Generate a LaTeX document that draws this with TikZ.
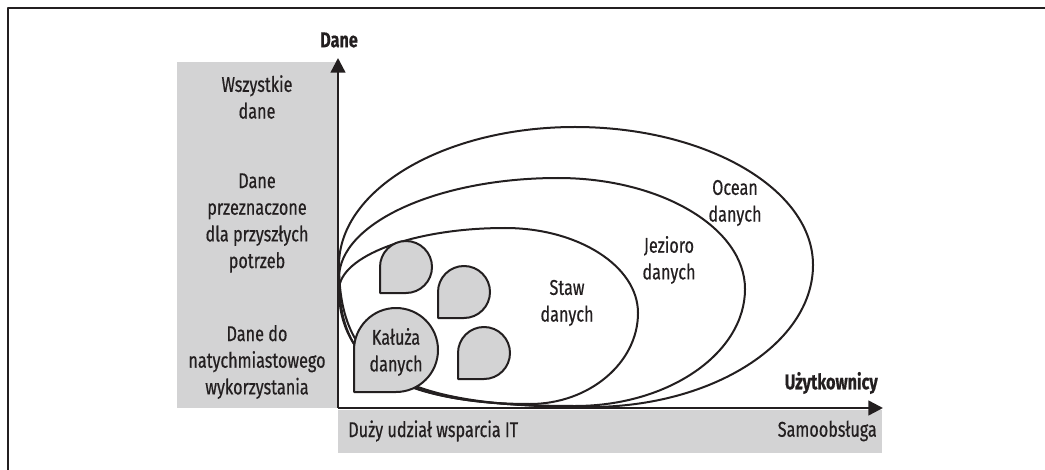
\documentclass[tikz,border=0pt]{standalone}
\usepackage{fontspec}
\setmainfont{Fira Sans}[FakeStretch=0.76,FakeBold=0.5]
\usetikzlibrary{arrows.meta}
\definecolor{ink}{HTML}{231F20}
\definecolor{panel}{HTML}{D3D3D4}
\newcommand{\mydrop}[3]{%
  \draw[drop] (#1-#3,#2+#3) -- (#1-#3,#2)
    .. controls (#1-#3,#2-0.5523*#3) and (#1-0.5523*#3,#2-#3) .. (#1,#2-#3)
    .. controls (#1+0.5523*#3,#2-#3) and (#1+#3,#2-0.5523*#3) .. (#1+#3,#2)
    .. controls (#1+#3,#2+0.5523*#3) and (#1+0.5523*#3,#2+#3) .. (#1,#2+#3)
    -- cycle;}
\begin{document}
\begin{tikzpicture}[x=0.75pt,y=-0.75pt,line join=round,
  txt/.style={font=\fontsize{16}{20}\selectfont,text=ink,align=center,inner sep=0pt},
  boldtxt/.style={font=\fontsize{16}{20}\selectfont\bfseries,text=ink,inner sep=0pt},
  curve/.style={draw=ink,line width=1.5pt},
  drop/.style={draw=ink,line width=1.5pt,fill=panel},
  axis/.style={draw=ink,line width=1.8pt,-{Triangle[length=11pt,width=11pt]}},
  frame/.style={draw=ink,line width=1.6pt}]
\useasboundingbox (0,0) rectangle (1045,470);
% frame
\coordinate (f1) at (8,470);
\coordinate (f2) at (8,8);
\coordinate (f3) at (1045,8);
\draw[frame] (f1) -- (f2) -- (f3);
% grey panels
\fill[panel] (177,62) rectangle (337,408);
\fill[panel] (338,410) rectangle (882,453);
% shapes
\draw[curve] (339,265) .. controls (339,189) and (445,127) .. (575,127)
  .. controls (706,127) and (813,189) .. (813,265)
  .. controls (813,343) and (713,407) .. (590,407)
  .. controls (402,407) and (339,372) .. (339,265) -- cycle;
\draw[curve] (339,278) .. controls (339,223) and (438,178) .. (558,178)
  .. controls (661,178) and (745,228) .. (745,289)
  .. controls (745,353) and (669,406) .. (575,406)
  .. controls (398,406) and (339,374) .. (339,278) -- cycle;
\draw[curve] (339,290) .. controls (339,256) and (414,228) .. (505,228)
  .. controls (578,228) and (638,266) .. (638,313)
  .. controls (638,363) and (589,404) .. (530,404)
  .. controls (405,404) and (339,365) .. (339,290) -- cycle;
\mydrop{396}{350}{42}
\mydrop{406}{267}{26}
\mydrop{464}{292}{26}
\mydrop{484}{353}{26}
% axes
\coordinate (o) at (338,408);
\coordinate (ytop) at (338,58);
\coordinate (xend) at (883,408);
\draw[axis] (o) -- (ytop);
\draw[axis] (o) -- (xend);
% labels
\node[boldtxt] (dane) at (339,40) {Dane};
\node[boldtxt,anchor=east] (uzyt) at (878,383) {Użytkownicy};
\node[txt] (wsz) at (257,97) {Wszystkie\\dane};
\node[txt] (przysz) at (257,223) {Dane\\przeznaczone\\dla przyszłych\\potrzeb};
\node[txt] (natych) at (257,362) {Dane do\\natychmiastowego\\wykorzystania};
\node[txt,anchor=west] (it) at (348,431) {Duży udział wsparcia IT};
\node[txt,anchor=east] (samo) at (877,431) {Samoobsługa};
\node[txt] (kaluza) at (396,352) {Kałuża\\danych};
\node[txt] (staw) at (567,303) {Staw\\danych};
\node[txt] (jez) at (669,260) {Jezioro\\danych};
\node[txt] (ocean) at (735,203) {Ocean\\danych};
\end{tikzpicture}
\end{document}
